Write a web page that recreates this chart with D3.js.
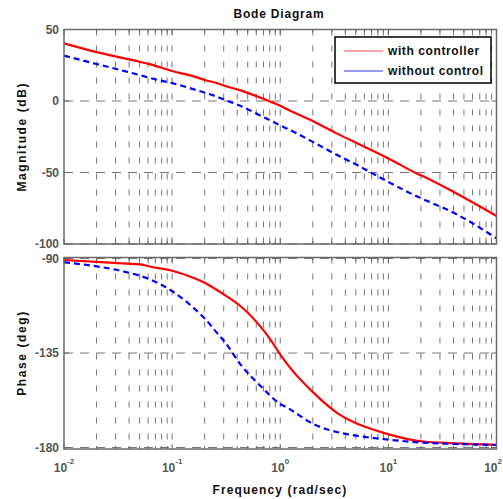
<!DOCTYPE html>
<html>
<head>
<meta charset="utf-8">
<script src="https://cdn.jsdelivr.net/npm/d3@7"></script>
<style>
  body { margin: 0; background: #fff; }
  text { font-family: "Liberation Sans", Arial, sans-serif; }
</style>
</head>
<body>
<svg id="chart" width="503" height="499"></svg>
<script>
// frequency points (rad/sec)
const freq = [0.01, 0.02, 0.038, 0.051, 0.063, 0.1, 0.17, 0.2, 0.26, 0.31, 0.43, 0.71, 0.82, 0.98, 1.17, 2.06, 3.4, 4.8, 6, 9.9, 18.7, 20, 41, 100];

// magnitude (dB)
const magWith = [40.3, 34.2, 29.5, 27.3, 25.6, 21, 16.5, 14.7, 12.5, 10.5, 7.4, 1.3, -0.6, -3, -6, -14.5, -23, -28.5, -32, -40, -51, -52, -64, -80.4];
const magWithout = [31.7, 25.9, 20.5, 18, 16, 12.5, 7.5, 5.8, 3, 0.7, -3.5, -11.5, -13.8, -16.8, -19.5, -29.1, -38, -43.6, -47.5, -56.4, -67, -68, -78.5, -96];

// phase (deg)
const phaseWith = [-90.7, -91.6, -92.4, -92.8, -93.9, -95.8, -99.9, -101.5, -105, -107.5, -112.7, -124.6, -129, -135, -140.5, -154.2, -163.7, -168, -170, -173.6, -176.8, -177, -178, -178.7];
const phaseWithout = [-91.8, -93.7, -96.5, -98.3, -100, -105.5, -115, -118.5, -125.4, -130, -140.5, -152.4, -155.6, -159, -161.1, -169, -172.7, -174.2, -174.9, -176.2, -177.5, -177.6, -178.3, -178.8];

const magTicks = [50, 0, -50, -100];
const phaseTicks = [-90, -135, -180];
const decades = [-2, -1, 0, 1, 2];
const legendLabels = ["with controller", "without control"];

const svg = d3.select("#chart");

let x = d3.scaleLog().domain([0.01, 100]).range([64, 496.5]);
let yMag = d3.scaleLinear().domain([-100, 50]).range([244, 29.5]);
let yPh = d3.scaleLinear().domain([-180.7, -89.5]).range([449, 257.5]);

// all grid positions along x: each decade and 2..9 inside it
let gridX = [];
decades.forEach(d => {
  if (d < 2) for (let k = 1; k < 10; k++) gridX.push(k * Math.pow(10, d));
  else gridX.push(100);
});

function drawPanel(y, ticks, series) {
  let g = svg.append("g");
  let [y0, y1] = y.range();

  // vertical grid
  g.selectAll(".vg").data(gridX.filter(v => v > 0.01 && v < 100)).join("line")
    .attr("x1", d => x(d)).attr("x2", d => x(d))
    .attr("y1", y1).attr("y2", y0)
    .attr("stroke", "#777").attr("stroke-width", 1)
    .attr("stroke-dasharray", "6,10");

  // horizontal grid
  g.selectAll(".hg").data(ticks).join("line")
    .attr("x1", x.range()[0]).attr("x2", x.range()[1])
    .attr("y1", d => y(d)).attr("y2", d => y(d))
    .attr("stroke", "#777").attr("stroke-width", 1)
    .attr("stroke-dasharray", "9,7");

  // tick marks on top / bottom edges
  gridX.forEach(v => {
    let isMajor = Math.abs(Math.log10(v) - Math.round(Math.log10(v))) < 1e-9;
    let len = isMajor ? 5 : 3;
    g.append("line").attr("x1", x(v)).attr("x2", x(v)).attr("y1", y0).attr("y2", y0 - len)
      .attr("stroke", "#666");
    g.append("line").attr("x1", x(v)).attr("x2", x(v)).attr("y1", y1).attr("y2", y1 + len)
      .attr("stroke", "#666");
  });
  ticks.forEach(t => {
    g.append("line").attr("x1", x.range()[0]).attr("x2", x.range()[0] + 5)
      .attr("y1", y(t)).attr("y2", y(t)).attr("stroke", "#666");
    g.append("line").attr("x1", x.range()[1]).attr("x2", x.range()[1] - 5)
      .attr("y1", y(t)).attr("y2", y(t)).attr("stroke", "#666");
  });

  // curves
  let line = d3.line().x((d, i) => x(freq[i])).y(d => y(d)).curve(d3.curveMonotoneX);
  series.forEach(s => {
    g.append("path").datum(s.values)
      .attr("d", line)
      .attr("fill", "none")
      .attr("stroke", s.color)
      .attr("stroke-width", 2.2)
      .attr("stroke-dasharray", s.dash);
  });

  // frame
  g.append("rect")
    .attr("x", x.range()[0]).attr("y", y1)
    .attr("width", x.range()[1] - x.range()[0]).attr("height", y0 - y1)
    .attr("fill", "none").attr("stroke", "#6a6a6a").attr("stroke-width", 1.5);

  // y tick labels
  g.selectAll(".yl").data(ticks).join("text")
    .attr("x", 59).attr("y", d => y(d)).attr("dy", "0.35em")
    .attr("text-anchor", "end")
    .attr("font-size", 12).attr("font-weight", "bold").attr("fill", "#555")
    .text(d => d);
  return g;
}

drawPanel(yMag, magTicks, [
  { values: magWith, color: "#ff0000", dash: null },
  { values: magWithout, color: "#0000ff", dash: "6,4" }
]);
drawPanel(yPh, phaseTicks, [
  { values: phaseWith, color: "#ff0000", dash: null },
  { values: phaseWithout, color: "#0000ff", dash: "6,4" }
]);

// x tick labels 10^n (last one kept inside the page)
decades.forEach((d, i) => {
  let last = i === decades.length - 1;
  let t = svg.append("text")
    .attr("x", last ? 502 : x(Math.pow(10, d))).attr("y", 472)
    .attr("text-anchor", last ? "end" : "middle")
    .attr("font-size", 12).attr("font-weight", "bold").attr("fill", "#555");
  t.append("tspan").text("10");
  t.append("tspan").attr("dy", -8).attr("font-size", 8).text(d);
});

// title and axis labels
svg.append("text").attr("x", 279).attr("y", 18)
  .attr("text-anchor", "middle").attr("font-size", 12).attr("font-weight", "bold")
  .attr("letter-spacing", 0.8).attr("fill", "#111")
  .text("Bode Diagram");

svg.append("text").attr("x", 280).attr("y", 494)
  .attr("text-anchor", "middle").attr("font-size", 12).attr("font-weight", "bold")
  .attr("letter-spacing", 1.1).attr("fill", "#111")
  .text("Frequency  (rad/sec)");

svg.append("text")
  .attr("transform", "translate(26," + yMag(-25) + ") rotate(-90)")
  .attr("text-anchor", "middle").attr("font-size", 12).attr("font-weight", "bold")
  .attr("letter-spacing", 1.6).attr("fill", "#111")
  .text("Magnitude (dB)");

svg.append("text")
  .attr("transform", "translate(26," + yPh(-135) + ") rotate(-90)")
  .attr("text-anchor", "middle").attr("font-size", 12).attr("font-weight", "bold")
  .attr("letter-spacing", 1.6).attr("fill", "#111")
  .text("Phase (deg)");

// legend
let lg = svg.append("g");
lg.append("rect").attr("x", 335).attr("y", 37).attr("width", 156).attr("height", 46)
  .attr("fill", "#fff").attr("stroke", "#000").attr("stroke-width", 1.5);
[["#ff4d4d", 51], ["#3a3aff", 71]].forEach((c, i) => {
  lg.append("line").attr("x1", 344).attr("x2", 383).attr("y1", c[1]).attr("y2", c[1])
    .attr("stroke", c[0]).attr("stroke-width", 1.2);
  lg.append("text").attr("x", 388).attr("y", c[1]).attr("dy", "0.35em")
    .attr("font-size", 12).attr("font-weight", "bold").attr("letter-spacing", 0.6)
    .attr("fill", "#111").text(legendLabels[i]);
});
</script>
</body>
</html>
